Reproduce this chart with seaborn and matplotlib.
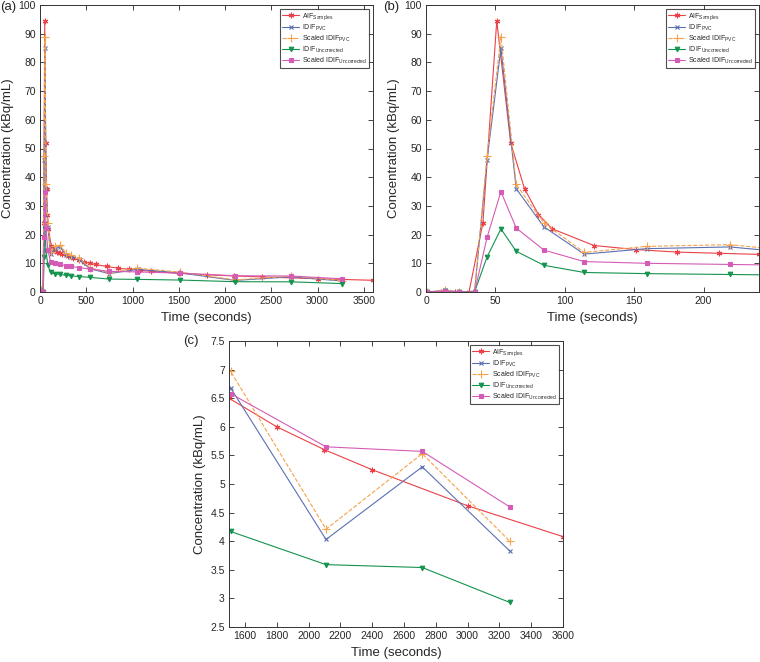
import numpy as np
import pandas as pd
import matplotlib
matplotlib.use("Agg")
import matplotlib.pyplot as plt
import seaborn as sns

# arterial blood samples
t_aif = [1, 11, 21, 31, 41, 51, 61, 71, 81, 91, 121, 151, 181, 211, 240, 300, 360, 420,
         480, 540, 600, 720, 840, 960, 1080, 1200, 1500, 1800, 2100, 2400, 3000, 3600]
aif_samples = [0, 0, 0, 0, 24, 94.5, 52, 36, 27, 22, 16.2, 14.8, 13.9, 13.5, 13.1, 12.4, 11.8, 11.0,
               10.5, 10.0, 9.6, 8.9, 8.3, 7.9, 7.6, 7.2, 6.5, 6.0, 5.6, 5.25, 4.62, 4.08]

# image derived input functions (frame mid times)
t_idif = [1, 14, 24, 35, 44, 54, 65, 85, 114, 159, 219, 279, 339, 419, 539, 749, 1049,
          1510, 2110, 2715, 3265]
idif_pvc = [0, 0.6, 0, 0, 46, 85, 36, 22.7, 13.2, 15.1, 15.7, 13.0, 12.3, 11.4, 8.1, 6.4, 7.9,
            6.68, 4.03, 5.30, 3.83]
scaled_idif_pvc = [0, 0.6, 0, 0, 47.5, 89, 37.5, 24, 13.8, 15.9, 16.5, 13.6, 12.9, 11.9, 8.5, 6.7, 8.3,
                   6.97, 4.21, 5.53, 4.00]
idif_unc = [0, 0.2, 0, 0, 12.2, 22, 14.2, 9.3, 6.8, 6.4, 6.1, 5.8, 5.6, 5.4, 5.1, 4.5, 4.4,
            4.17, 3.59, 3.54, 2.93]
scaled_idif_unc = [0, 0.3, 0, 0, 19, 35, 22.3, 14.6, 10.6, 10.0, 9.6, 9.2, 8.9, 8.5, 8.0, 7.2, 7.0,
                   6.58, 5.65, 5.57, 4.60]

series = [
    (r'AIF$_{Samples}$', t_aif, aif_samples, '#ec4048', (6, 2, 0), '-', 4),
    (r'IDIF$_{PVC}$', t_idif, idif_pvc, '#5b6fb3', 'x', '-', 2.8),
    (r'Scaled IDIF$_{PVC}$', t_idif, scaled_idif_pvc, '#f5a24a', '+', '--', 6),
    (r'IDIF$_{Uncorrected}$', t_idif, idif_unc, '#14934f', 'v', '-', 3.3),
    (r'Scaled IDIF$_{Uncorrected}$', t_idif, scaled_idif_unc, '#d45cb6', 's', '-', 2.4),
]

sns.set_style("ticks")
plt.rcParams['font.family'] = ['Liberation Sans', 'DejaVu Sans']
plt.rcParams['mathtext.default'] = 'regular'


def draw_panel(ax, xlim, ylim, xticks, yticks, tag, tag_xy):
    for label, t, v, col, mk, ls, ms in series:
        df = pd.DataFrame({'t': t, 'c': v})
        sns.lineplot(data=df, x='t', y='c', ax=ax, color=col, marker=mk, linestyle=ls,
                     markersize=ms, markeredgecolor=col, markeredgewidth=0.8,
                     linewidth=0.8, label=label, estimator=None, sort=False)
    ax.set_xlim(xlim)
    ax.set_ylim(ylim)
    ax.set_xticks(xticks)
    ax.set_yticks(yticks)
    ax.tick_params(direction='in', top=True, right=True, labelsize=7.5, length=3.5, width=0.6,
                   pad=3)
    for sp in ax.spines.values():
        sp.set_linewidth(0.7)
        sp.set_color('#333333')
    ax.set_xlabel('Time (seconds)', fontsize=9.5, labelpad=4)
    ax.set_ylabel('Concentration (kBq/mL)', fontsize=9.5, labelpad=3)
    leg = ax.legend(loc='upper right', fontsize=5, frameon=True, fancybox=False,
                    handlelength=2.4, borderpad=0.3, labelspacing=0.1, handletextpad=0.4,
                    borderaxespad=0.6)
    leg.get_frame().set_edgecolor('#222222')
    leg.get_frame().set_linewidth(0.8)
    fig.text(tag_xy[0] / 760, 1 - tag_xy[1] / 662, tag, fontsize=9.5, ha='left', va='center')


fig = plt.figure(figsize=(7.6, 6.62), dpi=100)
ax_a = fig.add_axes([40 / 760, 1 - 292 / 662, 333 / 760, 287 / 662])
ax_b = fig.add_axes([426 / 760, 1 - 292 / 662, 333 / 760, 287 / 662])
ax_c = fig.add_axes([229 / 760, 1 - 627 / 662, 334 / 760, 286 / 662])

draw_panel(ax_a, (0, 3600), (0, 100), range(0, 3501, 500), range(0, 101, 10), '(a)', (0, 7))
draw_panel(ax_b, (0, 240), (0, 100), range(0, 201, 50), range(0, 101, 10), '(b)', (383, 7))
draw_panel(ax_c, (1500, 3600), (2.5, 7.5), range(1600, 3601, 200), np.arange(2.5, 7.51, 0.5),
           '(c)', (183, 341))
ax_c.set_yticklabels(['2.5', '3', '3.5', '4', '4.5', '5', '5.5', '6', '6.5', '7', '7.5'])

fig.savefig('out.png', dpi=100)
